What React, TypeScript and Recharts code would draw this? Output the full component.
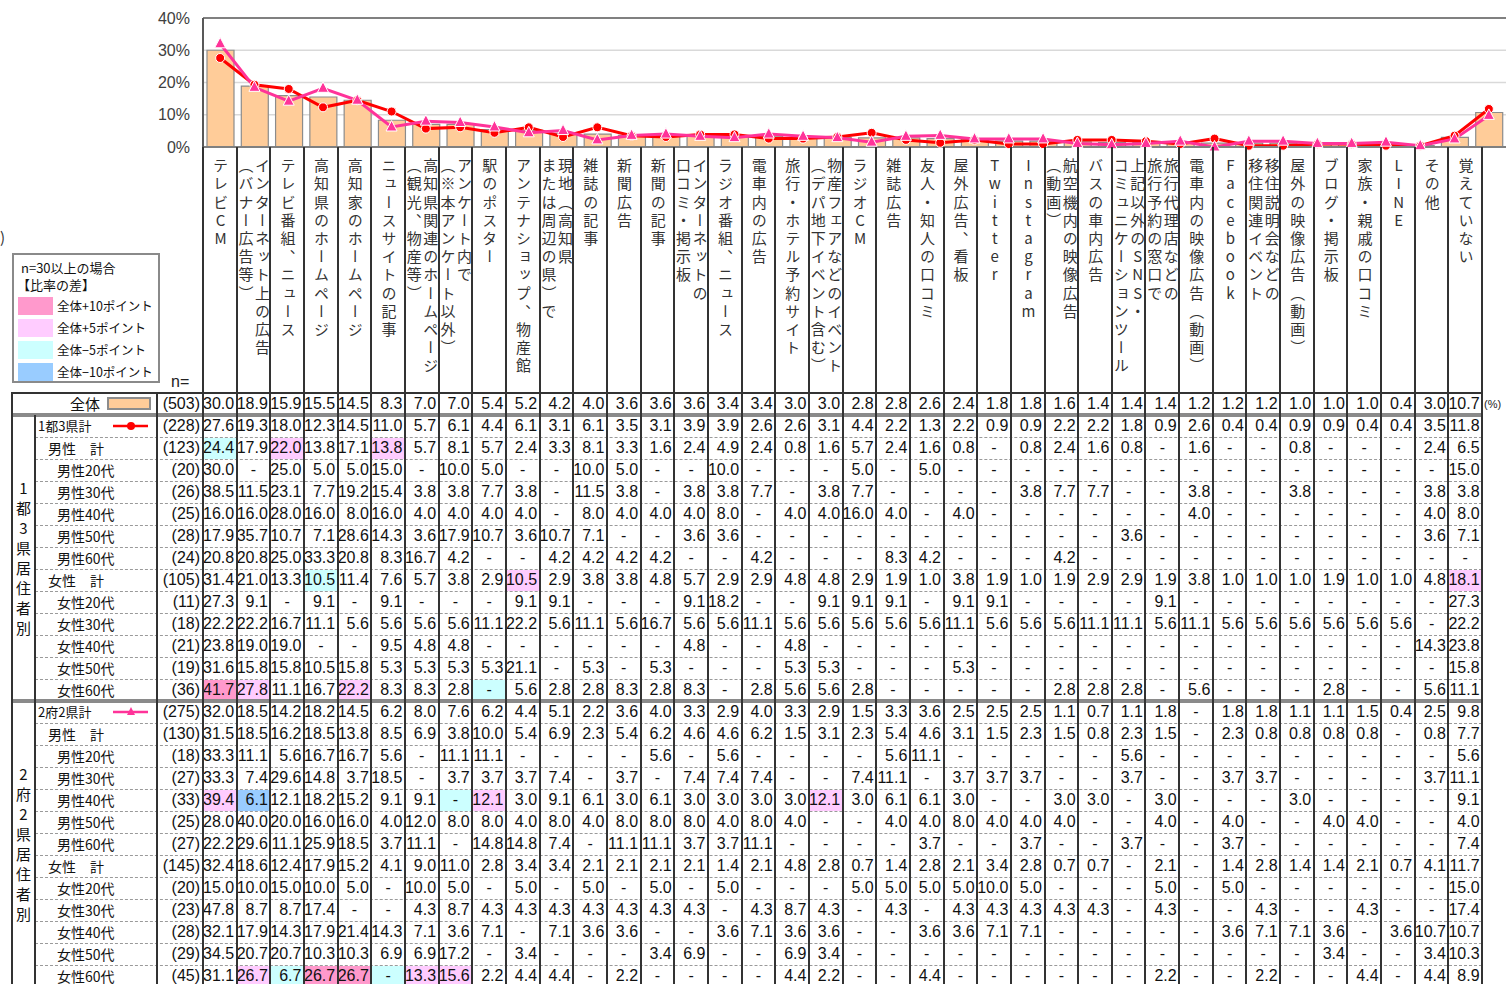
import React from 'react';
import { ComposedChart, Bar, Line, XAxis, YAxis, CartesianGrid, ReferenceLine } from 'recharts';

const N = null;

const categories = [
  'テレビCM', 'インターネット上の広告\n（バナー広告等）', 'テレビ番組、ニュース', '高知県のホームページ', '高知家のホームページ',
  'ニュースサイトの記事', '高知県関連のホームページ\n（観光、物産等）', 'アンケート内で\n（※本アンケート以外）', '駅のポスター', 'アンテナショップ、物産館',
  '現地（高知県\nまたは周辺の県）で', '雑誌の記事', '新聞広告', '新聞の記事', 'インターネットの\n口コミ・掲示板',
  'ラジオ番組、ニュース', '電車内の広告', '旅行・ホテル予約サイト', '物産フェアなどのイベント\n（デパ地下イベント含む）', 'ラジオCM',
  '雑誌広告', '友人・知人の口コミ', '屋外広告、看板', 'Twitter', 'Instagram',
  '航空機内の映像広告\n（動画）', 'バスの車内広告', '上記以外のSNS・\nコミュニケーションツール', '旅行代理店などの\n旅行予約の窓口で', '電車内の映像広告（動画）',
  'Facebook', '移住説明会などの\n移住関連イベント', '屋外の映像広告（動画）', 'ブログ・掲示板', '家族・親戚の口コミ',
  'LINE', 'その他', '覚えていない',
];

const yTicks = [0, 10, 20, 30, 40];

const overall = [30.0, 18.9, 15.9, 15.5, 14.5, 8.3, 7.0, 7.0, 5.4, 5.2, 4.2, 4.0, 3.6, 3.6, 3.6, 3.4, 3.4, 3.0, 3.0, 2.8, 2.8, 2.6, 2.4, 1.8, 1.8, 1.6, 1.4, 1.4, 1.4, 1.2, 1.2, 1.2, 1.0, 1.0, 1.0, 0.4, 3.0, 10.7];

const g1Total = [27.6, 19.3, 18.0, 12.3, 14.5, 11.0, 5.7, 6.1, 4.4, 6.1, 3.1, 6.1, 3.5, 3.1, 3.9, 3.9, 2.6, 2.6, 3.1, 4.4, 2.2, 1.3, 2.2, 0.9, 0.9, 2.2, 2.2, 1.8, 0.9, 2.6, 0.4, 0.4, 0.9, 0.9, 0.4, 0.4, 3.5, 11.8];
const g1Male = [24.4, 17.9, 22.0, 13.8, 17.1, 13.8, 5.7, 8.1, 5.7, 2.4, 3.3, 8.1, 3.3, 1.6, 2.4, 4.9, 2.4, 0.8, 1.6, 5.7, 2.4, 1.6, 0.8, N, 0.8, 2.4, 1.6, 0.8, N, 1.6, N, N, 0.8, N, N, N, 2.4, 6.5];
const g1M20 = [30.0, N, 25.0, 5.0, 5.0, 15.0, N, 10.0, 5.0, N, N, 10.0, 5.0, N, N, 10.0, N, N, N, 5.0, N, 5.0, N, N, N, N, N, N, N, N, N, N, N, N, N, N, N, 15.0];
const g1M30 = [38.5, 11.5, 23.1, 7.7, 19.2, 15.4, 3.8, 3.8, 7.7, 3.8, N, 11.5, 3.8, N, 3.8, 3.8, 7.7, N, 3.8, 7.7, N, N, N, N, 3.8, 7.7, 7.7, N, N, 3.8, N, N, 3.8, N, N, N, 3.8, 3.8];
const g1M40 = [16.0, 16.0, 28.0, 16.0, 8.0, 16.0, 4.0, 4.0, 4.0, 4.0, N, 8.0, 4.0, 4.0, 4.0, 8.0, N, 4.0, 4.0, 16.0, 4.0, N, 4.0, N, N, N, N, N, N, 4.0, N, N, N, N, N, N, 4.0, 8.0];
const g1M50 = [17.9, 35.7, 10.7, 7.1, 28.6, 14.3, 3.6, 17.9, 10.7, 3.6, 10.7, 7.1, N, N, 3.6, 3.6, N, N, N, N, N, N, N, N, N, N, N, 3.6, N, N, N, N, N, N, N, N, 3.6, 7.1];
const g1M60 = [20.8, 20.8, 25.0, 33.3, 20.8, 8.3, 16.7, 4.2, N, N, 4.2, 4.2, 4.2, 4.2, N, N, 4.2, N, N, N, 8.3, 4.2, N, N, N, 4.2, N, N, N, N, N, N, N, N, N, N, N, N];
const g1Female = [31.4, 21.0, 13.3, 10.5, 11.4, 7.6, 5.7, 3.8, 2.9, 10.5, 2.9, 3.8, 3.8, 4.8, 5.7, 2.9, 2.9, 4.8, 4.8, 2.9, 1.9, 1.0, 3.8, 1.9, 1.0, 1.9, 2.9, 2.9, 1.9, 3.8, 1.0, 1.0, 1.0, 1.9, 1.0, 1.0, 4.8, 18.1];
const g1F20 = [27.3, 9.1, N, 9.1, N, 9.1, N, N, N, 9.1, 9.1, N, N, N, 9.1, 18.2, N, N, 9.1, 9.1, 9.1, N, 9.1, 9.1, N, N, N, N, 9.1, N, N, N, N, N, N, N, N, 27.3];
const g1F30 = [22.2, 22.2, 16.7, 11.1, 5.6, 5.6, 5.6, 5.6, 11.1, 22.2, 5.6, 11.1, 5.6, 16.7, 5.6, 5.6, 11.1, 5.6, 5.6, 5.6, 5.6, 5.6, 11.1, 5.6, 5.6, 5.6, 11.1, 11.1, 5.6, 11.1, 5.6, 5.6, 5.6, 5.6, 5.6, 5.6, N, 22.2];
const g1F40 = [23.8, 19.0, 19.0, N, N, 9.5, 4.8, 4.8, N, N, N, N, N, N, 4.8, N, N, 4.8, N, N, N, N, N, N, N, N, N, N, N, N, N, N, N, N, N, N, 14.3, 23.8];
const g1F50 = [31.6, 15.8, 15.8, 10.5, 15.8, 5.3, 5.3, 5.3, 5.3, 21.1, N, 5.3, N, 5.3, N, N, N, 5.3, 5.3, N, N, N, 5.3, N, N, N, N, N, N, N, N, N, N, N, N, N, N, 15.8];
const g1F60 = [41.7, 27.8, 11.1, 16.7, 22.2, 8.3, 8.3, 2.8, N, 5.6, 2.8, 2.8, 8.3, 2.8, 8.3, N, 2.8, 5.6, 5.6, 2.8, N, N, N, N, N, 2.8, 2.8, 2.8, N, 5.6, N, N, N, 2.8, N, N, 5.6, 11.1];

const g2Total = [32.0, 18.5, 14.2, 18.2, 14.5, 6.2, 8.0, 7.6, 6.2, 4.4, 5.1, 2.2, 3.6, 4.0, 3.3, 2.9, 4.0, 3.3, 2.9, 1.5, 3.3, 3.6, 2.5, 2.5, 2.5, 1.1, 0.7, 1.1, 1.8, N, 1.8, 1.8, 1.1, 1.1, 1.5, 0.4, 2.5, 9.8];
const g2Male = [31.5, 18.5, 16.2, 18.5, 13.8, 8.5, 6.9, 3.8, 10.0, 5.4, 6.9, 2.3, 5.4, 6.2, 4.6, 4.6, 6.2, 1.5, 3.1, 2.3, 5.4, 4.6, 3.1, 1.5, 2.3, 1.5, 0.8, 2.3, 1.5, N, 2.3, 0.8, 0.8, 0.8, 0.8, N, 0.8, 7.7];
const g2M20 = [33.3, 11.1, 5.6, 16.7, 16.7, 5.6, N, 11.1, 11.1, N, N, N, N, 5.6, N, 5.6, N, N, N, N, 5.6, 11.1, N, N, N, N, N, 5.6, N, N, N, N, N, N, N, N, N, 5.6];
const g2M30 = [33.3, 7.4, 29.6, 14.8, 3.7, 18.5, N, 3.7, 3.7, 3.7, 7.4, N, 3.7, N, 7.4, 7.4, 7.4, N, N, 7.4, 11.1, N, 3.7, 3.7, 3.7, N, N, 3.7, N, N, 3.7, 3.7, N, N, N, N, 3.7, 11.1];
const g2M40 = [39.4, 6.1, 12.1, 18.2, 15.2, 9.1, 9.1, N, 12.1, 3.0, 9.1, 6.1, 3.0, 6.1, 3.0, 3.0, 3.0, 3.0, 12.1, 3.0, 6.1, 6.1, 3.0, N, N, 3.0, 3.0, N, 3.0, N, N, N, 3.0, N, N, N, N, 9.1];
const g2M50 = [28.0, 40.0, 20.0, 16.0, 16.0, 4.0, 12.0, 8.0, 8.0, 4.0, 8.0, 4.0, 8.0, 8.0, 8.0, 4.0, 8.0, 4.0, N, N, 4.0, 4.0, 8.0, 4.0, 4.0, 4.0, N, N, 4.0, N, 4.0, N, N, 4.0, 4.0, N, N, 4.0];
const g2M60 = [22.2, 29.6, 11.1, 25.9, 18.5, 3.7, 11.1, N, 14.8, 14.8, 7.4, N, 11.1, 11.1, 3.7, 3.7, 11.1, N, N, N, N, 3.7, N, N, 3.7, N, N, 3.7, N, N, 3.7, N, N, N, N, N, N, 7.4];
const g2Female = [32.4, 18.6, 12.4, 17.9, 15.2, 4.1, 9.0, 11.0, 2.8, 3.4, 3.4, 2.1, 2.1, 2.1, 2.1, 1.4, 2.1, 4.8, 2.8, 0.7, 1.4, 2.8, 2.1, 3.4, 2.8, 0.7, 0.7, N, 2.1, N, 1.4, 2.8, 1.4, 1.4, 2.1, 0.7, 4.1, 11.7];
const g2F20 = [15.0, 10.0, 15.0, 10.0, 5.0, N, 10.0, 5.0, N, 5.0, N, 5.0, N, 5.0, N, 5.0, N, N, N, 5.0, 5.0, 5.0, 5.0, 10.0, 5.0, N, N, N, 5.0, N, 5.0, N, N, N, N, N, N, 15.0];
const g2F30 = [47.8, 8.7, 8.7, 17.4, N, N, 4.3, 8.7, 4.3, 4.3, 4.3, 4.3, 4.3, 4.3, 4.3, N, 4.3, 8.7, 4.3, N, 4.3, N, 4.3, 4.3, 4.3, 4.3, 4.3, N, 4.3, N, N, 4.3, N, N, 4.3, N, N, 17.4];
const g2F40 = [32.1, 17.9, 14.3, 17.9, 21.4, 14.3, 7.1, 3.6, 7.1, N, 7.1, 3.6, 3.6, N, N, 3.6, 7.1, 3.6, 3.6, N, N, 3.6, 3.6, 7.1, 7.1, N, N, N, N, N, 3.6, 7.1, 7.1, 3.6, N, 3.6, 10.7, 10.7];
const g2F50 = [34.5, 20.7, 20.7, 10.3, 10.3, 6.9, 6.9, 17.2, N, 3.4, N, N, N, 3.4, 6.9, N, N, 6.9, 3.4, N, N, N, N, N, N, N, N, N, N, N, N, N, N, 3.4, N, N, 3.4, 10.3];
const g2F60 = [31.1, 26.7, 6.7, 26.7, 26.7, N, 13.3, 15.6, 2.2, 4.4, 4.4, N, 2.2, N, N, N, N, 4.4, 2.2, N, N, 4.4, N, N, N, N, N, N, 2.2, N, N, 2.2, N, N, 4.4, N, 4.4, 8.9];

const group1Rows = [
  { label: '1都3県計', n: 228, values: g1Total, kind: 'total' },
  { label: '男性　計', n: 123, values: g1Male, kind: 'sub' },
  { label: '男性20代', n: 20, values: g1M20, kind: 'age' },
  { label: '男性30代', n: 26, values: g1M30, kind: 'age' },
  { label: '男性40代', n: 25, values: g1M40, kind: 'age' },
  { label: '男性50代', n: 28, values: g1M50, kind: 'age' },
  { label: '男性60代', n: 24, values: g1M60, kind: 'age' },
  { label: '女性　計', n: 105, values: g1Female, kind: 'sub' },
  { label: '女性20代', n: 11, values: g1F20, kind: 'age' },
  { label: '女性30代', n: 18, values: g1F30, kind: 'age' },
  { label: '女性40代', n: 21, values: g1F40, kind: 'age' },
  { label: '女性50代', n: 19, values: g1F50, kind: 'age' },
  { label: '女性60代', n: 36, values: g1F60, kind: 'age' },
];
const group2Rows = [
  { label: '2府2県計', n: 275, values: g2Total, kind: 'total' },
  { label: '男性　計', n: 130, values: g2Male, kind: 'sub' },
  { label: '男性20代', n: 18, values: g2M20, kind: 'age' },
  { label: '男性30代', n: 27, values: g2M30, kind: 'age' },
  { label: '男性40代', n: 33, values: g2M40, kind: 'age' },
  { label: '男性50代', n: 25, values: g2M50, kind: 'age' },
  { label: '男性60代', n: 27, values: g2M60, kind: 'age' },
  { label: '女性　計', n: 145, values: g2Female, kind: 'sub' },
  { label: '女性20代', n: 20, values: g2F20, kind: 'age' },
  { label: '女性30代', n: 23, values: g2F30, kind: 'age' },
  { label: '女性40代', n: 28, values: g2F40, kind: 'age' },
  { label: '女性50代', n: 29, values: g2F50, kind: 'age' },
  { label: '女性60代', n: 45, values: g2F60, kind: 'age' },
];

// highlighted cells: [group, rowIndex, colIndex, level]
const highlights: [number, number, number, string][] = [
  [1, 1, 0, 'm5'], [1, 1, 2, 'p5'], [1, 1, 5, 'p5'],
  [1, 7, 3, 'm5'], [1, 7, 9, 'p5'], [1, 7, 37, 'p5'],
  [1, 12, 0, 'p10'], [1, 12, 1, 'p5'], [1, 12, 4, 'p5'], [1, 12, 8, 'm5'],
  [2, 4, 0, 'p5'], [2, 4, 1, 'm10'], [2, 4, 7, 'm5'], [2, 4, 8, 'p5'], [2, 4, 18, 'p5'],
  [2, 12, 1, 'p5'], [2, 12, 2, 'm5'], [2, 12, 3, 'p10'], [2, 12, 4, 'p10'], [2, 12, 5, 'm5'], [2, 12, 6, 'p5'], [2, 12, 7, 'p5'],
];
const levelColors: Record<string, string> = { p10: '#FF99CC', p5: '#FFCCFF', m5: '#CCFFFF', m10: '#99CCFF' };
const legendItems = [
  { level: 'p10', text: '全体+10ポイント' },
  { level: 'p5', text: '全体+5ポイント' },
  { level: 'm5', text: '全体−5ポイント' },
  { level: 'm10', text: '全体−10ポイント' },
];

const NUM_FONT = '"Liberation Sans Narrow", "Arial Narrow", "Liberation Sans", Arial, sans-serif';
const JP_FONT = '"Noto Sans CJK JP", "Noto Sans", sans-serif';
const RED = '#FF0000';
const PINK = '#FF3399';
const BAR_FILL = '#FFCC99';

const COL_X0 = 203;
const COL_W = 33.66;
const TABLE_RIGHT = COL_X0 + COL_W * 38;
const TABLE_TOP = 393;
const TOTAL_BOTTOM = 415;
const ROW_H = 22;
const G1_TOP = 415;
const G2_TOP = 701;
const HEADER_TOP = 147;

const chartData = categories.map((c, i) => ({
  name: c,
  overall: overall[i],
  g1: g1Total[i] ?? 0,
  g2: g2Total[i] ?? 0,
}));

const colLeft = (i: number) => COL_X0 + COL_W * i;

const TriangleDot = (props: any) => {
  const { cx, cy, index } = props;
  if (cx == null || cy == null) return <g key={`t-${index}`} />;
  return (
    <path
      key={`t-${index}`}
      d={`M${cx},${cy - 6.5} L${cx + 5.5},${cy + 4} L${cx - 5.5},${cy + 4} Z`}
      fill={PINK}
      stroke="#fff"
      strokeWidth={1}
    />
  );
};

const abs = (s: React.CSSProperties): React.CSSProperties => ({ position: 'absolute', ...s });

function HLine({ x1, x2, y, h = 2, color = '#333', dashed = false }: any) {
  if (dashed) {
    return <div style={abs({ left: x1, top: y, width: x2 - x1, height: 0, borderTop: `1px dashed ${color}` })} />;
  }
  return <div style={abs({ left: x1, top: y - h / 2, width: x2 - x1, height: h, background: color })} />;
}
function VLine({ x, y1, y2, w = 2, color = '#333' }: any) {
  return <div style={abs({ left: x - w / 2, top: y1, width: w, height: y2 - y1, background: color })} />;
}

function ValueCell({ v, x, y }: { v: number | null; x: number; y: number }) {
  const isNull = v == null;
  return (
    <div
      style={abs({
        left: x,
        top: y,
        width: COL_W,
        height: ROW_H,
        lineHeight: `${ROW_H}px`,
        textAlign: isNull ? 'center' : 'right',
        paddingRight: isNull ? 0 : 2.5,
        boxSizing: 'border-box',
        fontFamily: NUM_FONT,
        fontSize: 16,
        color: '#111',
        whiteSpace: 'nowrap',
      })}
    >
      {isNull ? '-' : (v as number).toFixed(1)}
    </div>
  );
}

function RowBlock({ rows, top, group }: { rows: any[]; top: number; group: number }) {
  const out: React.ReactNode[] = [];
  highlights
    .filter((h) => h[0] === group)
    .forEach(([, r, c, lvl], k) => {
      out.push(
        <div
          key={`hl-${k}`}
          style={abs({ left: colLeft(c) + 1, top: top + r * ROW_H + 1, width: COL_W - 2, height: ROW_H - 1, background: levelColors[lvl] })}
        />
      );
    });
  rows.forEach((row, r) => {
    const y = top + r * ROW_H;
    if (r > 0) out.push(<HLine key={`dl-${r}`} x1={35} x2={TABLE_RIGHT} y={y} dashed color="#9a9a9a" />);
    const left = row.kind === 'total' ? 38 : row.kind === 'sub' ? 48 : 57;
    out.push(
      <div
        key={`lb-${r}`}
        style={abs({
          left,
          top: y,
          height: ROW_H,
          lineHeight: `${ROW_H}px`,
          fontFamily: JP_FONT,
          fontSize: row.kind === 'total' ? 13 : 14,
          color: '#111',
          whiteSpace: 'pre',
        })}
      >
        {row.label}
      </div>
    );
    if (row.kind === 'total') {
      const isG1 = group === 1;
      out.push(
        <svg key={`mk-${r}`} width={38} height={ROW_H} style={abs({ left: 112, top: y })}>
          <line x1={1} x2={36} y1={11} y2={11} stroke={isG1 ? RED : PINK} strokeWidth={2.5} />
          {isG1 ? (
            <circle cx={19} cy={11} r={4} fill={RED} />
          ) : (
            <path d="M19,6 L23,14 L15,14 Z" fill={PINK} />
          )}
        </svg>
      );
    }
    out.push(
      <div
        key={`n-${r}`}
        style={abs({
          left: 157,
          top: y,
          width: 46,
          height: ROW_H,
          lineHeight: `${ROW_H}px`,
          textAlign: 'right',
          paddingRight: 3,
          boxSizing: 'border-box',
          fontFamily: NUM_FONT,
          fontSize: 16,
          color: '#111',
        })}
      >
        ({row.n})
      </div>
    );
    row.values.forEach((v: number | null, c: number) => {
      out.push(<ValueCell key={`v-${r}-${c}`} v={v} x={colLeft(c)} y={y} />);
    });
  });
  const groupLabel = group === 1 ? '1都3県居住者別' : '2府2県居住者別';
  const gh = rows.length * ROW_H;
  out.push(
    <div
      key="gl"
      style={abs({
        left: 12,
        top: top,
        width: 23,
        height: gh,
        display: 'flex',
        flexDirection: 'column',
        alignItems: 'center',
        justifyContent: 'center',
        fontFamily: JP_FONT,
        fontSize: 15,
        color: '#111',
      })}
    >
      {groupLabel.split('').map((ch, i) => (
        <div key={i} style={{ lineHeight: '20px', height: 20 }}>
          {ch}
        </div>
      ))}
    </div>
  );
  return <>{out}</>;
}

export default function App() {
  const colBorders = Array.from({ length: 39 }, (_, i) => colLeft(i));
  return (
    <div style={abs({ left: 0, top: 0, width: 1506, height: 984, overflow: 'hidden', background: '#fff' })}>
      {/* Chart */}
      <div style={abs({ left: 0, top: 0 })}>
        <ComposedChart width={1506} height={162} data={chartData} margin={{ top: 18, right: 0, bottom: 15, left: 0 }}>
          <CartesianGrid vertical={false} stroke="#D9D9D9" strokeWidth={1.5} />
          <XAxis dataKey="name" hide />
          <YAxis
            width={203}
            domain={[0, 40]}
            ticks={yTicks}
            interval={0}
            tickFormatter={(v: number) => `${v}%`}
            tickLine={false}
            tickMargin={7}
            axisLine={{ stroke: '#595959', strokeWidth: 2 }}
            tick={{ fontSize: 16, fill: '#404040', fontFamily: '"Liberation Sans", Arial, sans-serif' }}
          />
          <ReferenceLine y={40} stroke="#808080" strokeWidth={2} />
          <Bar dataKey="overall" fill={BAR_FILL} stroke="#8C8C8C" strokeWidth={1.2} barSize={27} isAnimationActive={false} />
          <Line
            dataKey="g1"
            stroke={RED}
            strokeWidth={3}
            dot={{ r: 4.5, fill: RED, stroke: '#fff', strokeWidth: 1 }}
            activeDot={false}
            isAnimationActive={false}
          />
          <Line dataKey="g2" stroke={PINK} strokeWidth={3} dot={TriangleDot} activeDot={false} isAnimationActive={false} />
          <ReferenceLine y={0} stroke="#808080" strokeWidth={2} />
        </ComposedChart>
      </div>

      {/* cut-off label at far left */}
      <div style={abs({ left: 0, top: 226, fontFamily: JP_FONT, fontSize: 15, color: '#333' })}>)</div>

      {/* Header column labels */}
      {categories.map((c, i) => (
        <div
          key={`h-${i}`}
          style={abs({
            left: colLeft(i),
            top: HEADER_TOP + 11,
            width: COL_W,
            height: TABLE_TOP - HEADER_TOP - 12,
            display: 'flex',
            justifyContent: 'center',
            alignItems: 'flex-start',
          })}
        >
          <div
            style={{
              writingMode: 'vertical-rl',
              textOrientation: 'upright',
              whiteSpace: 'pre',
              fontFamily: JP_FONT,
              fontSize: 15,
              lineHeight: '16.5px',
              letterSpacing: '3.2px',
              color: '#333',
            }}
          >
            {c}
          </div>
        </div>
      ))}

      {/* Legend box */}
      <div
        style={abs({
          left: 12,
          top: 253,
          width: 148,
          height: 130,
          border: '2px solid #8a8a8a',
          boxSizing: 'border-box',
          background: '#fff',
        })}
      />
      <div style={abs({ left: 21, top: 259, fontFamily: JP_FONT, fontSize: 13, lineHeight: '17px', color: '#111', whiteSpace: 'nowrap' })}>
        n=30以上の場合
      </div>
      <div style={abs({ left: 17, top: 276, fontFamily: JP_FONT, fontSize: 13, lineHeight: '17px', color: '#111', whiteSpace: 'nowrap' })}>
        【比率の差】
      </div>
      {legendItems.map((it, k) => (
        <React.Fragment key={`lg-${k}`}>
          <div style={abs({ left: 18, top: 297 + k * 22, width: 35, height: 18, background: levelColors[it.level] })} />
          <div
            style={abs({
              left: 57,
              top: 297 + k * 22,
              height: 18,
              lineHeight: '18px',
              fontFamily: JP_FONT,
              fontSize: 12.5,
              color: '#111',
              whiteSpace: 'nowrap',
            })}
          >
            {it.text}
          </div>
        </React.Fragment>
      ))}
      <div style={abs({ left: 171, top: 372, fontFamily: NUM_FONT, fontSize: 16, lineHeight: '20px', color: '#222' })}>n=</div>

      {/* Overall row */}
      <div style={abs({ left: 70, top: TABLE_TOP, height: ROW_H, lineHeight: `${ROW_H}px`, fontFamily: JP_FONT, fontSize: 15, color: '#111' })}>
        全体
      </div>
      <div style={abs({ left: 107, top: 397, width: 44, height: 13, background: BAR_FILL, border: '2px solid #8C8C8C', boxSizing: 'border-box' })} />
      <div
        style={abs({
          left: 157,
          top: TABLE_TOP,
          width: 46,
          height: ROW_H,
          lineHeight: `${ROW_H}px`,
          textAlign: 'right',
          paddingRight: 3,
          boxSizing: 'border-box',
          fontFamily: NUM_FONT,
          fontSize: 16,
          color: '#111',
        })}
      >
        (503)
      </div>
      {overall.map((v, c) => (
        <ValueCell key={`ov-${c}`} v={v} x={colLeft(c)} y={TABLE_TOP} />
      ))}
      <div style={abs({ left: 1484, top: 398, fontFamily: NUM_FONT, fontSize: 11, color: '#222' })}>(%)</div>

      <RowBlock rows={group1Rows} top={G1_TOP} group={1} />
      <RowBlock rows={group2Rows} top={G2_TOP} group={2} />

      {/* Grid lines */}
      <HLine x1={11} x2={TABLE_RIGHT + 1} y={TABLE_TOP} h={2} color="#333" />
      <HLine x1={11} x2={TABLE_RIGHT + 1} y={TOTAL_BOTTOM} h={3.5} color="#8a8a8a" />
      <HLine x1={11} x2={TABLE_RIGHT + 1} y={G2_TOP} h={3.5} color="#8a8a8a" />
      <VLine x={12} y1={TABLE_TOP} y2={984} />
      <VLine x={35} y1={TOTAL_BOTTOM} y2={984} />
      <VLine x={157} y1={TABLE_TOP} y2={984} />
      {colBorders.map((x, i) => (
        <VLine key={`cb-${i}`} x={x} y1={HEADER_TOP} y2={984} />
      ))}
    </div>
  );
}
